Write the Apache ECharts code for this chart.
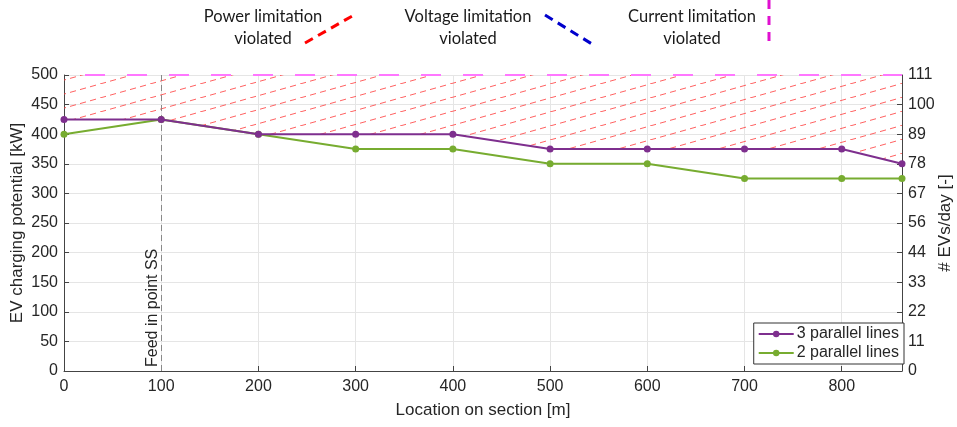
<!DOCTYPE html>
<html><head><meta charset="utf-8">
<script src="https://cdn.jsdelivr.net/npm/echarts@6/dist/echarts.min.js"></script>
<style>html,body{margin:0;padding:0;background:#fff}#c{width:957px;height:427px}</style>
</head><body><div id="c"></div>
<script>
const locations = [0, 100, 200, 300, 400, 500, 600, 700, 800, 862];
const threeLines = [425, 425, 400, 400, 400, 375, 375, 375, 375, 350];
const twoLines   = [400, 425, 400, 375, 375, 350, 350, 325, 325, 325];
const rightTickLabels = ['0','11','22','33','44','56','67','78','89','100','111'];
const limitLabels = ['Power limitation', 'Voltage limitation', 'Current limitation'];
const powerLimit = 500;
const feedInPoint = 100;
const sectionEnd = 862;

function hatchTile(){
  const W = 50, H = 14;
  const c = document.createElement('canvas');
  c.width = W; c.height = H;
  const g = c.getContext('2d');
  g.strokeStyle = 'rgba(255,70,70,0.85)';
  g.lineWidth = 1;
  const L = Math.hypot(W, H);
  const n = 5, period = L / n, dash = period * 0.6;
  for (const [ox, oy] of [[0,0],[-W,H],[W,-H]]) {
    for (let i = 0; i < n; i++) {
      const t0 = (i * period) / L, t1 = (i * period + dash) / L;
      g.beginPath();
      g.moveTo(ox + W * t0, oy + H - H * t0);
      g.lineTo(ox + W * t1, oy + H - H * t1);
      g.stroke();
    }
  }
  return c;
}
const tile = hatchTile();

const toPairs = arr => locations.map((x, i) => [x, arr[i]]);

const axisColor = '#444';
const textColor = '#262626';
const font = 'Liberation Sans';
const legendFont = '16.5px Lato';

function legendText(cx, txt) {
  return [
    {type: 'text', x: cx, y: 17, style: {text: txt, font: legendFont, fill: '#1a1a1a', align: 'center', verticalAlign: 'middle'}},
    {type: 'text', x: cx, y: 39, style: {text: 'violated', font: legendFont, fill: '#1a1a1a', align: 'center', verticalAlign: 'middle'}}
  ];
}

const chart = echarts.init(document.getElementById('c'), null, {renderer: 'canvas'});
chart.setOption({
  animation: false,
  backgroundColor: '#fff',
  textStyle: {fontFamily: font},
  grid: {left: 64, right: 55, top: 75, bottom: 56, containLabel: false, outerBoundsMode: 'none'},
  xAxis: {
    type: 'value', min: 0, max: sectionEnd, interval: 100,
    name: 'Location on section [m]', nameLocation: 'middle', nameGap: 31, nameMoveOverlap: false,
    nameTextStyle: {fontSize: 17, color: textColor, fontFamily: font},
    axisLine: {show: true, lineStyle: {color: axisColor}},
    axisTick: {show: true, inside: true, length: 5, lineStyle: {color: axisColor}},
    axisLabel: {fontSize: 16, color: textColor, margin: 8, showMaxLabel: false,
      formatter: v => (v % 100 === 0 ? String(v) : '')},
    splitLine: {show: true, lineStyle: {color: '#e5e5e5'}}
  },
  yAxis: [{
    type: 'value', min: 0, max: 500, interval: 50,
    name: 'EV charging potential [kW]', nameLocation: 'middle', nameGap: 38, nameMoveOverlap: false,
    nameTextStyle: {fontSize: 17, color: textColor, fontFamily: font},
    axisLine: {show: true, lineStyle: {color: axisColor}},
    axisTick: {show: true, inside: true, length: 5, lineStyle: {color: axisColor}},
    axisLabel: {fontSize: 16, color: textColor, margin: 6},
    splitLine: {show: true, lineStyle: {color: '#e5e5e5'}}
  }, {
    type: 'value', min: 0, max: 500, interval: 50, position: 'right',
    name: '# EVs/day [-]', nameLocation: 'middle', nameGap: 35, nameRotate: 90, nameMoveOverlap: false,
    nameTextStyle: {fontSize: 17, color: textColor, fontFamily: font},
    axisLine: {show: true, lineStyle: {color: axisColor}},
    axisTick: {show: true, inside: true, length: 5, lineStyle: {color: axisColor}},
    axisLabel: {fontSize: 16, color: textColor, margin: 6,
      formatter: v => rightTickLabels[Math.round(v / 50)]},
    splitLine: {show: false}
  }],
  legend: {
    data: ['3 parallel lines', '2 parallel lines'],
    orient: 'vertical', right: 53, bottom: 63,
    backgroundColor: '#fff', borderColor: '#333', borderWidth: 1, borderRadius: 0,
    padding: [3, 5, 3, 4], itemGap: 3, itemWidth: 35, itemHeight: 8,
    textStyle: {fontSize: 16, color: textColor, fontFamily: font, padding: [0, 0, 0, -2]}
  },
  series: [
    {
      name: 'Power limitation violated', type: 'custom', data: [0], z: 1, silent: true,
      xAxisIndex: 0, yAxisIndex: 0,
      renderItem: (params, api) => {
        const pts = locations.map((x, i) => api.coord([x, threeLines[i]]));
        pts.push(api.coord([sectionEnd, powerLimit]), api.coord([0, powerLimit]));
        return {type: 'polygon', shape: {points: pts},
          style: {fill: {image: tile, repeat: 'repeat'}, stroke: null}};
      }
    },
    {
      name: 'Current limitation violated', type: 'line',
      data: [[0, powerLimit], [sectionEnd, powerLimit]], symbol: 'none', z: 2,
      lineStyle: {color: '#ff77ff', width: 2, type: [20, 22], dashOffset: 21}
    },
    {
      name: 'feed', type: 'line', data: [], z: 3,
      markLine: {
        silent: true, symbol: 'none',
        lineStyle: {color: '#888', type: [6, 4], width: 1},
        label: {show: true, position: 'insideStartTop', formatter: 'Feed in point SS',
          fontSize: 16, color: textColor, fontFamily: font, distance: [4, 1]},
        data: [{xAxis: feedInPoint}]
      }
    },
    {
      name: '2 parallel lines', type: 'line', data: toPairs(twoLines), z: 5,
      symbol: 'circle', symbolSize: 7,
      itemStyle: {color: '#77ac30'}, lineStyle: {color: '#77ac30', width: 2}
    },
    {
      name: '3 parallel lines', type: 'line', data: toPairs(threeLines), z: 6,
      symbol: 'circle', symbolSize: 7,
      itemStyle: {color: '#7e2f8e'}, lineStyle: {color: '#7e2f8e', width: 2}
    }
  ],
  graphic: [
    ...legendText(263, limitLabels[0]),
    {type: 'line', shape: {x1: 305, y1: 43, x2: 354, y2: 15}, style: {stroke: '#ff0000', lineWidth: 3, lineDash: [9, 6]}},
    ...legendText(468, limitLabels[1]),
    {type: 'line', shape: {x1: 545, y1: 15, x2: 592, y2: 44}, style: {stroke: '#0000cc', lineWidth: 3, lineDash: [9, 6]}},
    ...legendText(692, limitLabels[2]),
    {type: 'line', shape: {x1: 769, y1: 0, x2: 769, y2: 48}, style: {stroke: '#e010d0', lineWidth: 3, lineDash: [9, 7]}}
  ]
});
</script></body></html>
